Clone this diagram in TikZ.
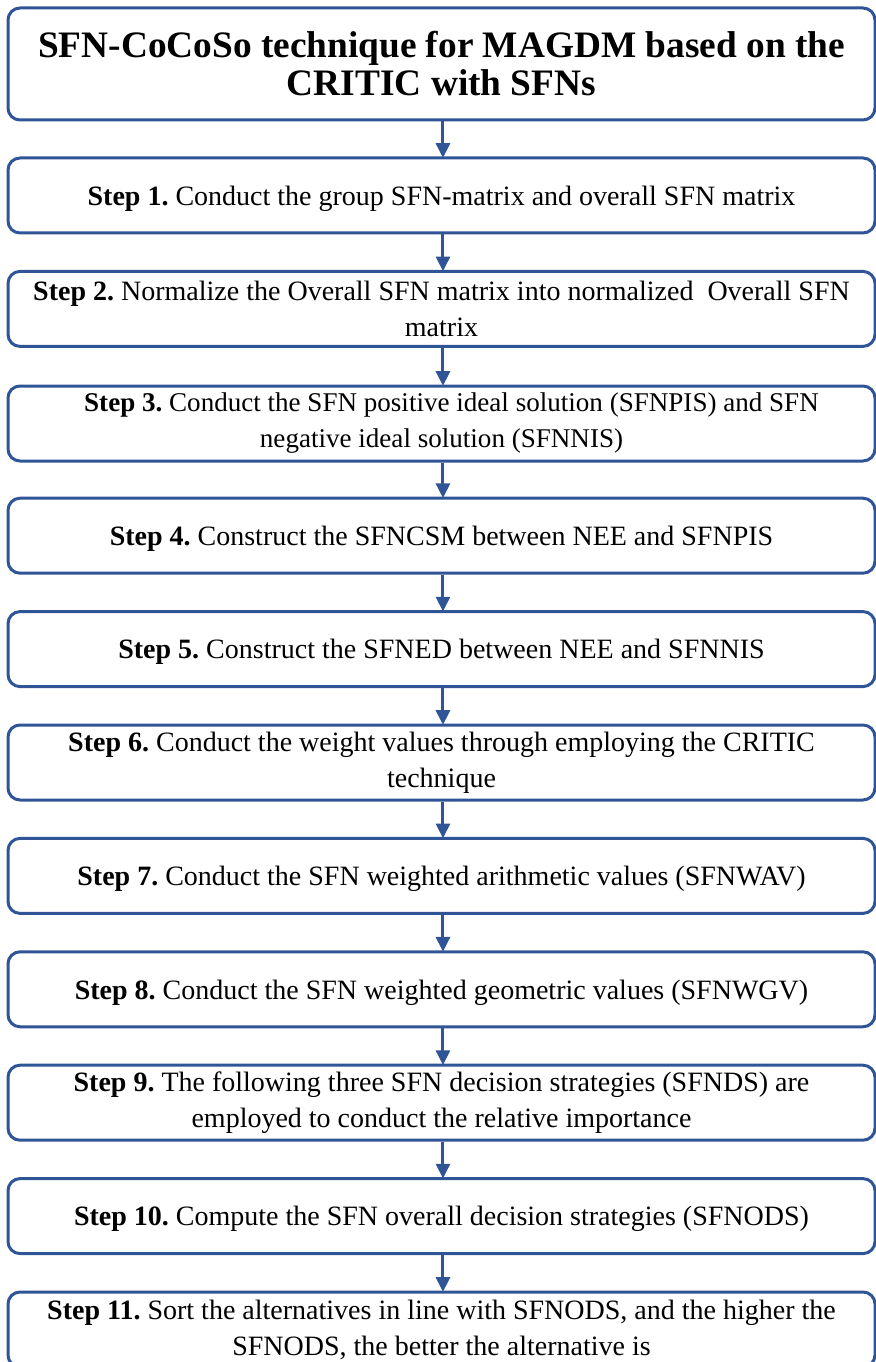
\documentclass[tikz,border=0pt]{standalone}
\usepackage{fontspec}
\setmainfont{Liberation Serif}
\usetikzlibrary{arrows.meta}
\definecolor{boxblue}{HTML}{2F5597}
\frenchspacing
\tikzset{
  flowbox/.style={draw=boxblue, line width=2.25pt, rounded corners=9pt, fill=white,
    minimum width=650.25pt, minimum height=56.25pt, align=center, inner sep=0pt,
    font=\fontsize{21}{27}\selectfont},
  oneline/.style={text depth=0pt},
  titlebox/.style={flowbox, minimum height=84pt, font=\fontsize{28}{28.5}\selectfont\bfseries},
  arr/.style={draw=boxblue, line width=2.25pt, -{Triangle[width=10.5pt,length=11pt]}, shorten >=-1pt}
}
\begin{document}
\begin{tikzpicture}[x=0.75pt,y=-0.75pt]
\useasboundingbox (0,0) rectangle (875,1362);
\node[titlebox] (t) at (441.5,64) {SFN-CoCoSo technique for MAGDM based on the\\CRITIC with SFNs};
\node[flowbox,oneline] (s1) at (441.5,195.5) {\textbf{Step 1.} Conduct the group SFN-matrix and overall SFN matrix};
\node[flowbox] (s2) at (441.5,308.9) {\textbf{Step 2.} Normalize the Overall SFN matrix into normalized\ \ Overall SFN\\matrix};
\node[flowbox, font=\fontsize{20.3}{27}\selectfont] (s3) at (441.5,423.5) {\hspace{15pt}\textbf{Step 3.} Conduct the SFN positive ideal solution (SFNPIS) and SFN\\negative ideal solution (SFNNIS)};
\node[flowbox,oneline] (s4) at (441.5,535.7) {\textbf{Step 4.} Construct the SFNCSM between NEE and SFNPIS};
\node[flowbox,oneline] (s5) at (441.5,649.1) {\textbf{Step 5.} Construct the SFNED between NEE and SFNNIS};
\node[flowbox] (s6) at (441.5,762.5) {\textbf{Step 6.} Conduct the weight values through employing the CRITIC\\technique};
\node[flowbox,oneline] (s7) at (441.5,875.9) {\textbf{Step 7.} Conduct the SFN weighted arithmetic values (SFNWAV)};
\node[flowbox,oneline] (s8) at (441.5,989.3) {\textbf{Step 8.} Conduct the SFN weighted geometric values (SFNWGV)};
\node[flowbox] (s9) at (441.5,1102.7) {\textbf{Step 9.} The following three SFN decision strategies (SFNDS) are\\employed to conduct the relative importance};
\node[flowbox,oneline] (s10) at (441.5,1216.1) {\textbf{Step 10.} Compute the SFN overall decision strategies (SFNODS)};
\node[flowbox] (s11) at (441.5,1329.5) {\textbf{Step 11.} Sort the alternatives in line with SFNODS, and the higher the\\SFNODS, the better the alternative is};
\foreach \a/\b in {t/s1,s1/s2,s2/s3,s3/s4,s4/s5,s5/s6,s6/s7,s7/s8,s8/s9,s9/s10,s10/s11}
  \draw[arr] ([xshift=1.1pt]\a.south) -- ([xshift=1.1pt]\b.north);
\end{tikzpicture}
\end{document}
